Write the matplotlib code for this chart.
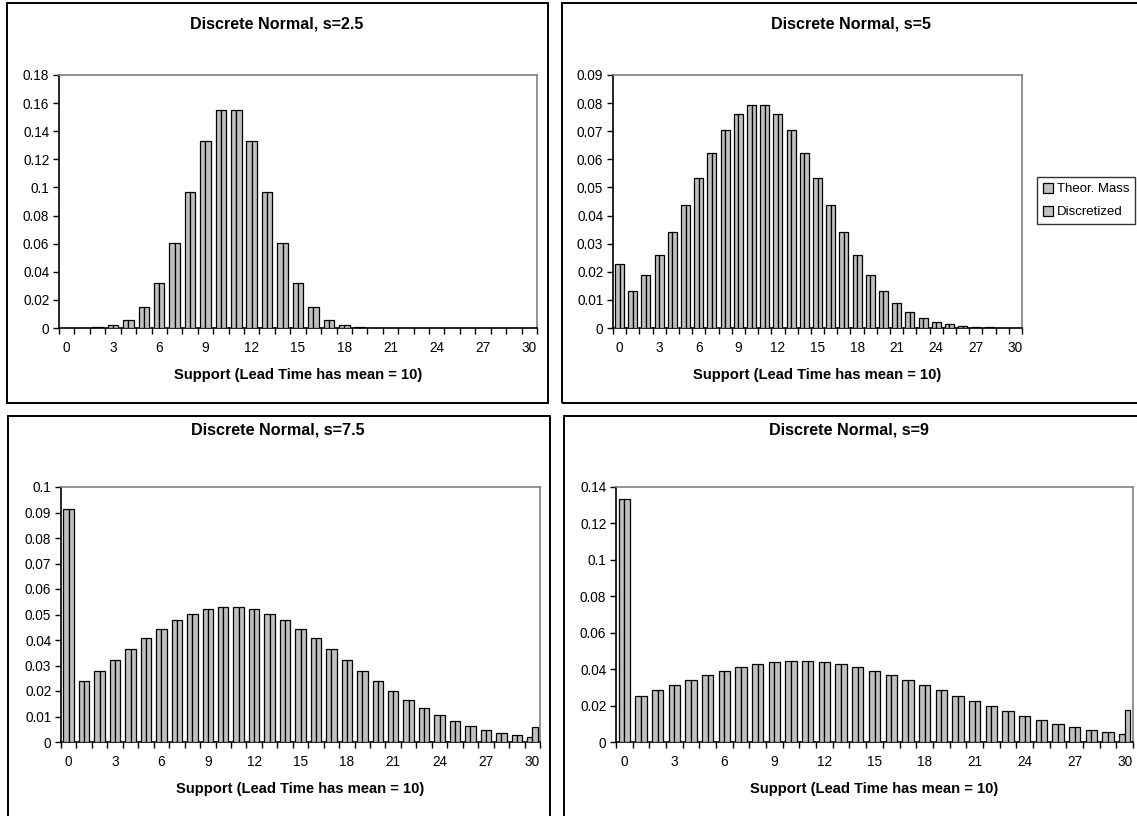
import numpy as np
import matplotlib
matplotlib.use("Agg")
import matplotlib.pyplot as plt
from matplotlib.patches import Rectangle

plt.rcParams['font.family'] = ['Liberation Sans', 'DejaVu Sans']

# ---------------- data ----------------
support = list(range(0, 31))
xtick_labels = ['0', '3', '6', '9', '12', '15', '18', '21', '24', '27', '30']
series_names = ['Theor. Mass', 'Discretized']
titles = ['Discrete Normal, s=2.5', 'Discrete Normal, s=5',
          'Discrete Normal, s=7.5', 'Discrete Normal, s=9']
xlabel_text = 'Support (Lead Time has mean = 10)'

theor_s25 = [0.0000, 0.0001, 0.0005, 0.0019, 0.0056, 0.0146, 0.0320, 0.0603, 0.0968, 0.1327,
             0.1554, 0.1554, 0.1327, 0.0968, 0.0603, 0.0320, 0.0146, 0.0056, 0.0019, 0.0005,
             0.0001, 0.0, 0.0, 0.0, 0.0, 0.0, 0.0, 0.0, 0.0, 0.0, 0.0]
disc_s25 = [0.0000, 0.0001, 0.0005, 0.0019, 0.0056, 0.0146, 0.0320, 0.0603, 0.0968, 0.1327,
            0.1554, 0.1554, 0.1327, 0.0968, 0.0603, 0.0320, 0.0146, 0.0056, 0.0019, 0.0005,
            0.0001, 0.0, 0.0, 0.0, 0.0, 0.0, 0.0, 0.0, 0.0, 0.0, 0.0]

theor_s5 = [0.0228, 0.0131, 0.0189, 0.0260, 0.0343, 0.0436, 0.0532, 0.0624, 0.0703, 0.0761,
            0.0793, 0.0793, 0.0761, 0.0703, 0.0624, 0.0532, 0.0436, 0.0343, 0.0260, 0.0189,
            0.0131, 0.0089, 0.0057, 0.0035, 0.0021, 0.0013, 0.0007, 0.0004, 0.0002, 0.0001, 0.0000]
disc_s5 = [0.0228, 0.0131, 0.0189, 0.0260, 0.0343, 0.0436, 0.0532, 0.0624, 0.0703, 0.0761,
           0.0793, 0.0793, 0.0761, 0.0703, 0.0624, 0.0532, 0.0436, 0.0343, 0.0260, 0.0189,
           0.0131, 0.0089, 0.0057, 0.0035, 0.0021, 0.0013, 0.0007, 0.0004, 0.0002, 0.0001, 0.0001]

theor_s75 = [0.0912, 0.0239, 0.0280, 0.0322, 0.0366, 0.0406, 0.0444, 0.0477, 0.0503, 0.0521,
             0.0530, 0.0530, 0.0521, 0.0503, 0.0477, 0.0444, 0.0406, 0.0366, 0.0322, 0.0280,
             0.0239, 0.0200, 0.0164, 0.0133, 0.0105, 0.0082, 0.0064, 0.0047, 0.0035, 0.0026, 0.0020]
disc_s75 = [0.0912, 0.0239, 0.0280, 0.0322, 0.0366, 0.0406, 0.0444, 0.0477, 0.0503, 0.0521,
            0.0530, 0.0530, 0.0521, 0.0503, 0.0477, 0.0444, 0.0406, 0.0366, 0.0322, 0.0280,
            0.0239, 0.0200, 0.0164, 0.0133, 0.0105, 0.0082, 0.0064, 0.0047, 0.0035, 0.0026, 0.0057]

theor_s9 = [0.1333, 0.0254, 0.0283, 0.0313, 0.0342, 0.0368, 0.0391, 0.0410, 0.0427, 0.0437,
            0.0442, 0.0442, 0.0437, 0.0427, 0.0410, 0.0391, 0.0368, 0.0342, 0.0313, 0.0283,
            0.0254, 0.0225, 0.0196, 0.0169, 0.0144, 0.0121, 0.0101, 0.0082, 0.0067, 0.0054, 0.0045]
disc_s9 = [0.1333, 0.0254, 0.0283, 0.0313, 0.0342, 0.0368, 0.0391, 0.0410, 0.0427, 0.0437,
           0.0442, 0.0442, 0.0437, 0.0427, 0.0410, 0.0391, 0.0368, 0.0342, 0.0313, 0.0283,
           0.0254, 0.0225, 0.0196, 0.0169, 0.0144, 0.0121, 0.0101, 0.0082, 0.0067, 0.0054, 0.0174]

y_max = [0.18, 0.09, 0.1, 0.14]
y_step = [0.02, 0.01, 0.01, 0.02]

# ---------------- layout (pixels) ----------------
W, H = 1137, 816
fig = plt.figure(figsize=(W / 100, H / 100), dpi=100)
fig.patch.set_facecolor('white')

def fx(px):
    return px / W

def fy(py):
    return 1 - py / H

# panel frames: (left, top, right, bottom)
panels = [(7, 3, 548, 403), (562, 3, 1145, 403), (8, 416, 550, 825), (564, 416, 1145, 825)]
# plot areas: (left, top, right, bottom)
plots = [(59, 75, 537, 328), (613, 75, 1022, 328), (61, 487, 540, 742), (616, 487, 1133, 742)]
title_pos = [(277, 24), (851, 24), (278, 430), (849, 430)]

for (l, t, r, b) in panels:
    fig.patches.append(Rectangle((fx(l), fy(b)), fx(r - l), (b - t) / H,
                                 transform=fig.transFigure, fill=False,
                                 edgecolor='black', linewidth=1.4, zorder=0))

data = [(theor_s25, disc_s25), (theor_s5, disc_s5), (theor_s75, disc_s75), (theor_s9, disc_s9)]
x = np.array(support)
w = 0.34
fill = '#C0C0C0'

for i, ((l, t, r, b), (th, di)) in enumerate(zip(plots, data)):
    ax = fig.add_axes([fx(l), fy(b), fx(r - l), (b - t) / H])
    b1 = ax.bar(x - w / 2, th, w, color=fill, edgecolor='black', linewidth=0.9,
                label=series_names[0], zorder=3)
    b2 = ax.bar(x + w / 2, di, w, color=fill, edgecolor='black', linewidth=0.9,
                label=series_names[1], zorder=3)
    ax.set_xlim(-0.5, 30.5)
    ax.set_ylim(0, y_max[i])
    yt = np.arange(0, y_max[i] + y_step[i] / 2, y_step[i])
    ax.set_yticks(yt)
    ax.set_yticklabels(['%g' % round(v, 4) for v in yt])
    ax.set_xticks(np.arange(-0.5, 31, 1))
    ax.set_xticklabels([])
    ax.set_xticks(np.arange(0, 31, 3), minor=True)
    ax.set_xticklabels(xtick_labels, minor=True)
    ax.tick_params(axis='x', which='major', direction='out', length=4, width=1, color='black')
    ax.tick_params(axis='x', which='minor', length=0, pad=9.5, labelsize=9.8)
    ax.tick_params(axis='y', direction='out', length=4, width=1, labelsize=9.8, pad=3)
    for s in ['top', 'right']:
        ax.spines[s].set_color('#808080')
        ax.spines[s].set_linewidth(1.2)
    for s in ['left', 'bottom']:
        ax.spines[s].set_color('black')
        ax.spines[s].set_linewidth(1.2)
    ax.set_facecolor('white')

    fig.text(fx(title_pos[i][0]), fy(title_pos[i][1]), titles[i], ha='center', va='center',
             fontsize=11.6, fontweight='bold')
    fig.text(fx((l + r) / 2), fy(b + 47), xlabel_text, ha='center', va='center',
             fontsize=10.6, fontweight='bold')

    if i == 1:
        leg = fig.legend(handles=[b1, b2], labels=series_names, loc='upper left',
                         bbox_to_anchor=(fx(1037), fy(177)), bbox_transform=fig.transFigure,
                         fontsize=9.5, frameon=True, fancybox=False, handlelength=0.75,
                         handleheight=0.75, handletextpad=0.3, borderpad=0.45,
                         borderaxespad=0, labelspacing=0.8)
        leg.get_frame().set_edgecolor('black')
        leg.get_frame().set_linewidth(1.0)
        leg._legend_box.sep = 0
        for txt in leg.get_texts():
            pass

fig.savefig('out.png', dpi=100, facecolor='white')
